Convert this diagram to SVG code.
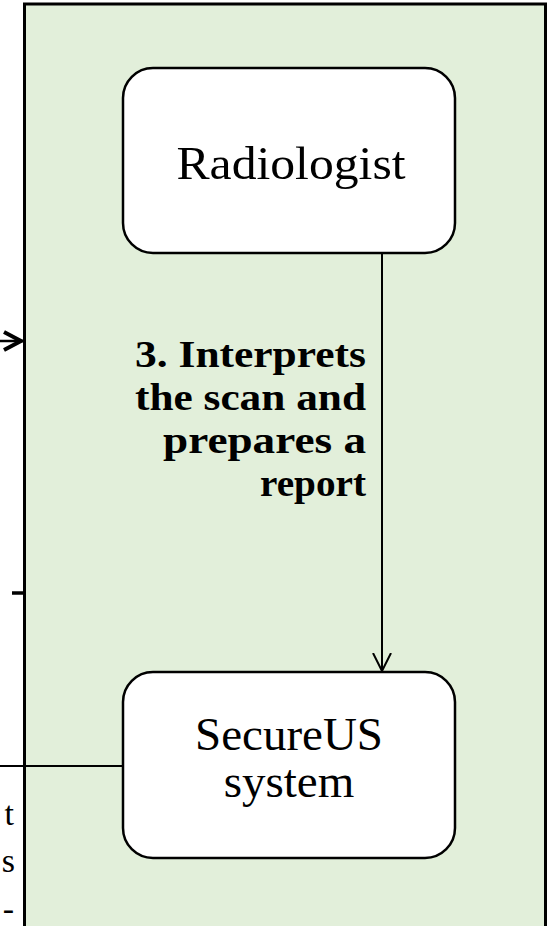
<svg xmlns="http://www.w3.org/2000/svg" width="553" height="926" viewBox="0 0 553 926">
  <style>
    .lane { fill: #E2EFDA; stroke: #000; stroke-width: 3; }
    .node { fill: #FFFFFF; stroke: #000; stroke-width: 2.5; }
    .label { font-family: "Liberation Serif", "Times New Roman", serif; font-size: 47px; fill: #000; text-anchor: middle; }
    .step { font-family: "Liberation Serif", "Times New Roman", serif; font-weight: bold; font-size: 38px; fill: #000; text-anchor: end; }
    .edge { fill: none; stroke: #000; stroke-width: 2; }
    .side { font-family: "Liberation Serif", "Times New Roman", serif; font-size: 34px; fill: #000; text-anchor: end; }
  </style>
  <defs>
    <marker id="open-arrow" markerWidth="20" markerHeight="20" refX="18" refY="10" orient="auto" markerUnits="userSpaceOnUse">
      <path d="M0,1 L18,10 L0,19" fill="none" stroke="#000" stroke-width="2"/>
    </marker>
  </defs>

  <rect width="553" height="926" fill="#FFFFFF"/>

  <!-- swimlane background -->
  <rect id="lane" class="lane" x="24.5" y="4" width="521" height="1000"/>

  <!-- connectors -->
  <g id="connectors">
    <path class="edge" d="M382,253 L382,671" marker-end="url(#open-arrow)"/>
    <path class="edge" d="M0,766 L123,766"/>
    <!-- incoming arrow tip at lane edge -->
    <path d="M4,332 L21,341 L4,350" fill="none" stroke="#000" stroke-width="4"/>
    <path d="M0,341 L23,341" fill="none" stroke="#000" stroke-width="2.5"/>
    <!-- stub at lane edge -->
    <path d="M12,593 L24,593" fill="none" stroke="#000" stroke-width="3.5"/>
    <text class="step" x="366" y="367" textLength="231" lengthAdjust="spacingAndGlyphs">3. Interprets</text>
    <text class="step" x="366" y="410" textLength="231" lengthAdjust="spacingAndGlyphs">the scan and</text>
    <text class="step" x="366" y="453" textLength="203" lengthAdjust="spacingAndGlyphs">prepares a</text>
    <text class="step" x="366" y="496" textLength="106" lengthAdjust="spacingAndGlyphs">report</text>
  </g>

  <!-- labels from the neighbouring lane -->
  <g id="side-labels">
    <text class="side" x="14" y="825">t</text>
    <text class="side" x="15" y="872">s</text>
    <text class="side" x="14" y="920">-</text>
  </g>

  <g id="radiologist">
    <rect class="node" x="123" y="68" width="332" height="185" rx="30"/>
    <text class="label" x="291" y="179" textLength="229" lengthAdjust="spacingAndGlyphs">Radiologist</text>
  </g>

  <g id="secureus">
    <rect class="node" x="123" y="672" width="332" height="186" rx="30"/>
    <text class="label" x="289" y="750">SecureUS</text>
    <text class="label" x="289" y="797">system</text>
  </g>
</svg>
